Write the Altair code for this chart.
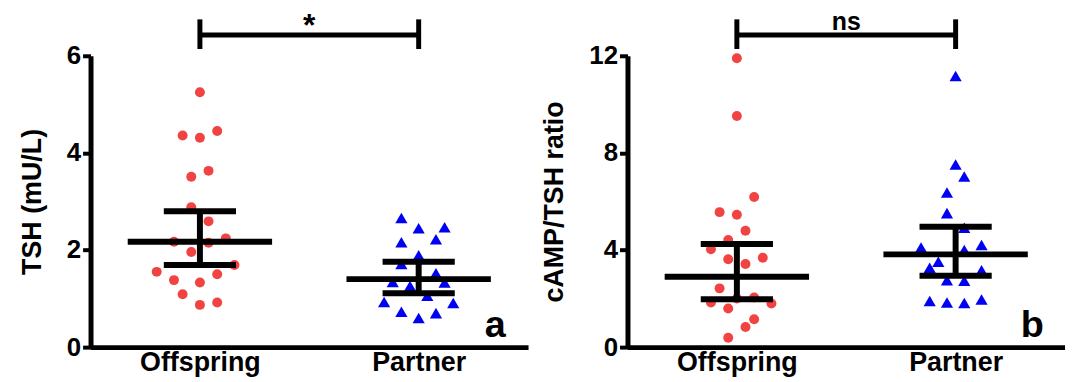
import altair as alt
import pandas as pd

# ---------------- data ----------------
groups = ["Offspring", "Partner"]
group_pos = [1, 3]

# panel a: TSH (mU/L); *_col = beeswarm column index of each point
tsh_off = [5.25, 4.36, 4.31, 4.45, 3.51, 3.63, 2.88, 2.59, 2.17, 2.15,
           2.24, 1.96, 1.69, 1.55, 1.50, 1.38, 1.33, 1.09, 0.87, 0.92]
tsh_off_col = [0, -2, 0, 2, -1, 1, -1, 1, -3, 1, 3, -1, 4, -5, 2, -3, 0, -2, 0, 2]
tsh_par = [2.66, 2.45, 2.47, 2.16, 2.22, 1.89, 1.71, 1.52, 1.34, 1.33,
           1.26, 1.06, 0.93, 0.91, 0.73, 0.70, 0.60]
tsh_par_col = [-2, 0, 3, -2, 2, 0, -2, 2, -3, 3, -1, 1, -4, 4, -2, 2, 0]
tsh_mean = [2.17, 1.40]
tsh_upper = [2.80, 1.76]
tsh_lower = [1.69, 1.11]

# panel b: cAMP/TSH ratio
ratio_off = [11.90, 9.52, 6.18, 5.56, 5.45, 4.79, 4.41, 4.03, 3.62, 3.42,
             3.68, 2.42, 1.84, 2.00, 2.04, 1.80, 1.59, 1.15, 0.83, 0.39]
ratio_off_col = [0, 0, 2, -2, 0, 1, -1, -3, -1, 1, 3, -2, -3, 0, 2, 4, -1, 2, 1, -1]
ratio_par = [11.17, 7.52, 7.03, 6.37, 5.52, 4.92, 4.10, 4.00, 4.21, 3.52,
             3.27, 3.17, 2.76, 2.73, 1.90, 1.84, 1.82, 1.96]
ratio_par_col = [0, 0, 1, -1, -1, 1, -4, 1, 3, -2, -3, 3, -1, 1, -3, -1, 1, 3]
ratio_mean = [2.90, 3.82]
ratio_upper = [4.25, 4.96]
ratio_lower = [1.97, 2.94]

sig_labels = ["*", "ns"]
panel_labels = ["a", "b"]
y_titles = ["TSH (mU/L)", "cAMP/TSH ratio"]
y_max = [6, 12]
y_ticks = [[0, 2, 4, 6], [0, 4, 8, 12]]

# ---------------- styling constants ----------------
FONT = "Liberation Sans"
STEP = 0.079          # horizontal step of one beeswarm column (x units)
MEAN_HALF = 0.66
CAP_HALF = 0.33
RED = "#F24343"
BLUE = "#0000F2"
W, H = 440, 293


def panel(off_vals, off_col, par_vals, par_col, mean, upper, lower,
          ymax, yticks, ytitle, sig, letter, sig_size, sig_off):
    p_off, p_par = group_pos
    pts = pd.DataFrame(
        [{"x": p_off + c * STEP, "y": v, "g": groups[0]} for v, c in zip(off_vals, off_col)]
        + [{"x": p_par + c * STEP, "y": v, "g": groups[1]} for v, c in zip(par_vals, par_col)]
    )
    segs = []
    for pos, m, u, lo in zip(group_pos, mean, upper, lower):
        segs.append({"x": pos - MEAN_HALF, "x2": pos + MEAN_HALF, "y": m, "y2": m})
        segs.append({"x": pos - CAP_HALF, "x2": pos + CAP_HALF, "y": u, "y2": u})
        segs.append({"x": pos - CAP_HALF, "x2": pos + CAP_HALF, "y": lo, "y2": lo})
        segs.append({"x": pos, "x2": pos, "y": lo, "y2": u})
    segs = pd.DataFrame(segs)

    unit = ymax / 6.0
    by, blo, bhi = ymax + 0.43 * unit, ymax + 0.14 * unit, ymax + 0.75 * unit
    brk = pd.DataFrame([
        {"x": p_off, "x2": p_par, "y": by, "y2": by},
        {"x": p_off, "x2": p_off, "y": blo, "y2": bhi},
        {"x": p_par, "x2": p_par, "y": blo, "y2": bhi},
    ])
    sig_df = pd.DataFrame([{"x": (p_off + p_par) / 2, "y": ymax + sig_off * unit, "t": sig}])
    let_df = pd.DataFrame([{"x": 3.7, "y": 0.2 * unit, "t": letter}])

    xs = alt.Scale(domain=[0, 4], nice=False, zero=False)
    ys = alt.Scale(domain=[0, ymax], nice=False, zero=True)
    xaxis = alt.Axis(values=group_pos,
                     labelExpr="datum.value == 1 ? 'Offspring' : 'Partner'",
                     ticks=False, title=None, grid=False, labelFontSize=27,
                     labelPadding=3)
    yaxis = alt.Axis(values=yticks, title=ytitle, grid=False, format="d")
    X = alt.X("x:Q", scale=xs, axis=xaxis)
    Y = alt.Y("y:Q", scale=ys, axis=yaxis)

    pts_layer = alt.Chart(pts).mark_point(filled=True, opacity=1, strokeWidth=0).encode(
        x=X, y=Y,
        shape=alt.Shape("g:N", scale=alt.Scale(domain=groups, range=["circle", "triangle-up"]), legend=None),
        color=alt.Color("g:N", scale=alt.Scale(domain=groups, range=[RED, BLUE]), legend=None),
        size=alt.Size("g:N", scale=alt.Scale(domain=groups, range=[100, 150]), legend=None),
    )
    bars = alt.Chart(segs).mark_rule(color="black", strokeWidth=6).encode(
        x=X, x2="x2:Q", y=Y, y2="y2:Q")
    bracket = alt.Chart(brk).mark_rule(color="black", strokeWidth=5).encode(
        x=X, x2="x2:Q", y=Y, y2="y2:Q")
    sig_t = alt.Chart(sig_df).mark_text(font=FONT, fontWeight="bold", fontSize=sig_size,
                                        baseline="alphabetic", align="center", color="black").encode(
        x=X, y=Y, text="t:N")
    let_t = alt.Chart(let_df).mark_text(font=FONT, fontWeight="bold", fontSize=38,
                                        baseline="alphabetic", align="center", color="black").encode(
        x=X, y=Y, text="t:N")
    return alt.layer(pts_layer, bars, bracket, sig_t, let_t).properties(width=W, height=H)


left = panel(tsh_off, tsh_off_col, tsh_par, tsh_par_col, tsh_mean, tsh_upper, tsh_lower,
             y_max[0], y_ticks[0], y_titles[0], sig_labels[0], panel_labels[0], 32, 0.40)
right = panel(ratio_off, ratio_off_col, ratio_par, ratio_par_col, ratio_mean, ratio_upper, ratio_lower,
              y_max[1], y_ticks[1], y_titles[1], sig_labels[1], panel_labels[1], 25, 0.54)

chart = alt.hconcat(left, right, spacing=100, bounds="flush").properties(
    padding={"left": 10, "top": 0, "right": 0, "bottom": 0}
).configure_view(strokeWidth=0).configure_axis(
    domainColor="black", domainWidth=5, tickColor="black", tickWidth=4, tickSize=8,
    labelFont=FONT, labelFontWeight="bold", labelFontSize=26, labelColor="black",
    labelPadding=2, titleFont=FONT, titleFontWeight="bold", titleFontSize=27,
    titleColor="black", titlePadding=20,
)

chart.save("out.html", embed_options={"renderer": "svg", "actions": False})
